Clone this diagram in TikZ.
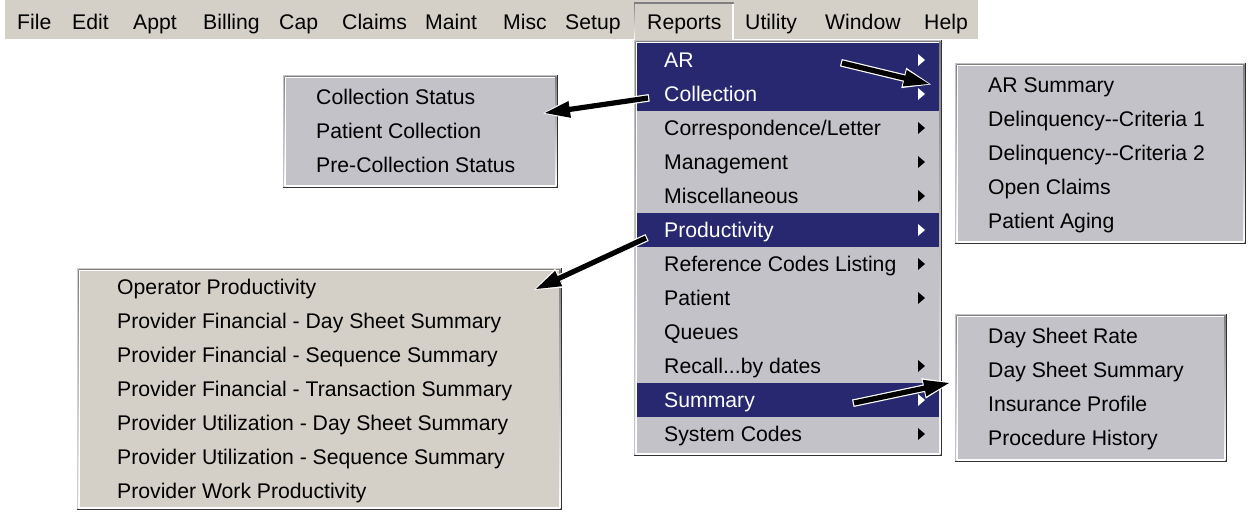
\documentclass[tikz,border=0pt]{standalone}
\usepackage{fontspec}
\setmainfont{Liberation Sans}
\usetikzlibrary{calc}
\definecolor{barface}{RGB}{212,208,200}
\definecolor{menuface}{RGB}{194,194,200}
\definecolor{hilite}{RGB}{40,40,112}
\definecolor{shade}{RGB}{128,128,128}
\definecolor{darkedge}{RGB}{50,50,50}

% raised 3D panel built from stacked rectangles: x1,y1,x2,y2,fill colour
\newcommand\menupanel[5]{%
  \fill[darkedge] (#1,#2) rectangle (#3,#4);
  \fill[#5] (#1,#2) rectangle ({#3-1.5},{#4-1.5});
  \fill[shade] ({#1+1.5},{#2+1.5}) rectangle ({#3-1.5},{#4-1.5});
  \fill[white] ({#1+1.5},{#2+1.5}) rectangle ({#3-3},{#4-3});
  \fill[#5] ({#1+3},{#2+3}) rectangle ({#3-3},{#4-3});
}
% submenu pointer triangle at height y
\newcommand\subtri[2]{\fill[#2] (918,{#1-6}) -- (918,{#1+6}) -- (925,#1) -- cycle;}
% filled arrow outline: colour, tail, tip, shaft half width, head half width, head length
\newcommand\arrowfill[6]{%
  \fill[#1]
    ($(#2)!#4!90:(#3)$)
    -- ($(#3)!#6!(#2)!#4!90:(#3)$)
    -- ($(#3)!#6!(#2)!#5!90:(#3)$)
    -- (#3)
    -- ($(#3)!#6!(#2)!#5!-90:(#3)$)
    -- ($(#3)!#6!(#2)!#4!-90:(#3)$)
    -- ($(#2)!#4!-90:(#3)$) -- cycle;
}
% pointer arrow with a thin white rim, from tail #1 to tip #2
\newcommand\pointer[2]{%
  \coordinate (#1-rim) at ($(#1)!-1.2pt!(#2)$);
  \coordinate (#2-rim) at ($(#2)!-2pt!(#1)$);
  \arrowfill{white}{#1-rim}{#2-rim}{3.8pt}{10.5pt}{28pt}
  \arrowfill{black}{#1}{#2}{2.6pt}{8.5pt}{25pt}
}

\begin{document}
\begin{tikzpicture}[x=1pt,y=-1pt,
  every node/.style={inner sep=0pt, font=\fontsize{21.2}{24}\selectfont},
  item/.style={anchor=base west},
  hiitem/.style={anchor=base west, text=white}]
\useasboundingbox (0,0) rectangle (1252,512);
\fill[white] (0,0) rectangle (1252,512);

% menu bar
\fill[barface] (5,0) rectangle (978,38.5);
% sunken Reports button
\fill[shade] (634,2.5) rectangle (733.5,40);
\fill[white] (635.2,3.7) rectangle (733.5,40);
\fill[barface] (635.2,3.7) rectangle (732.3,40);

\node[item] (bFile)    at (17,29)  {File};
\node[item] (bEdit)    at (72,29)  {Edit};
\node[item] (bAppt)    at (133,29) {Appt};
\node[item] (bBilling) at (203,29) {Billing};
\node[item] (bCap)     at (279,29) {Cap};
\node[item] (bClaims)  at (342,29) {Claims};
\node[item] (bMaint)   at (425,29) {Maint};
\node[item] (bMisc)    at (503,29) {Misc};
\node[item] (bSetup)   at (565,29) {Setup};
\node[item] (bReports) at (647,29) {Reports};
\node[item] (bUtility) at (745,29) {Utility};
\node[item] (bWindow)  at (825,29) {Window};
\node[item] (bHelp)    at (924,29) {Help};

% Reports menu
\menupanel{634}{40}{942}{456}{menuface}
\fill[hilite] (637,43) rectangle (939,111);
\fill[hilite] (637,213) rectangle (939,247);
\fill[hilite] (637,383) rectangle (939,417);

\node[hiitem] (mAR)      at (664,67.5)  {AR};
\node[hiitem] (mColl)    at (664,101.5) {Collection};
\node[item]   (mCorr)    at (664,135.5) {Correspondence/Letter};
\node[item]   (mMgmt)    at (664,169.5) {Management};
\node[item]   (mMisc)    at (664,203.5) {Miscellaneous};
\node[hiitem] (mProd)    at (664,237.5) {Productivity};
\node[item]   (mRef)     at (664,271.5) {Reference Codes Listing};
\node[item]   (mPatient) at (664,305.5) {Patient};
\node[item]   (mQueues)  at (664,339.5) {Queues};
\node[item]   (mRecall)  at (664,373.5) {Recall...by dates};
\node[hiitem] (mSummary) at (664,407.5) {Summary};
\node[item]   (mSys)     at (664,441.5) {System Codes};

\subtri{60}{white}
\subtri{94}{white}
\subtri{128}{black}
\subtri{162}{black}
\subtri{196}{black}
\subtri{230}{white}
\subtri{264}{black}
\subtri{298}{black}
\subtri{366}{black}
\subtri{400}{white}
\subtri{434}{black}

% Collection submenu
\menupanel{283}{75}{558}{188}{menuface}
\node[item] (cStatus)  at (316,104.5) {Collection Status};
\node[item] (cPatient) at (316,138.5) {Patient Collection};
\node[item] (cPre)     at (316,172.5) {Pre-Collection Status};

% AR submenu
\menupanel{955}{63}{1246}{244}{menuface}
\node[item] (aSum)  at (988,92.5)  {AR Summary};
\node[item] (aDel1) at (988,126.5) {Delinquency-{}-Criteria 1};
\node[item] (aDel2) at (988,160.5) {Delinquency-{}-Criteria 2};
\node[item] (aOpen) at (988,194.5) {Open Claims};
\node[item] (aAge)  at (988,228.5) {Patient Aging};

% Summary submenu
\menupanel{955}{314}{1227}{462}{menuface}
\node[item] (sRate) at (988,343.5) {Day Sheet Rate};
\node[item] (sSum)  at (988,377.5) {Day Sheet Summary};
\node[item] (sIns)  at (988,411.5) {Insurance Profile};
\node[item] (sProc) at (988,445.5) {Procedure History};

% Productivity submenu
\menupanel{77}{268}{562}{510}{barface}
\node[item] (p1) at (117,294.5) {Operator Productivity};
\node[item] (p2) at (117,328.5) {Provider Financial - Day Sheet Summary};
\node[item] (p3) at (117,362.5) {Provider Financial - Sequence Summary};
\node[item] (p4) at (117,396.5) {Provider Financial - Transaction Summary};
\node[item] (p5) at (117,430.5) {Provider Utilization - Day Sheet Summary};
\node[item] (p6) at (117,464.5) {Provider Utilization - Sequence Summary};
\node[item] (p7) at (117,498.5) {Provider Work Productivity};

% pointer arrows
\coordinate (arTail)   at (842,63);
\coordinate (arTip)    at (929,84);
\coordinate (colTail)  at (648,98);
\coordinate (colTip)   at (545,113);
\coordinate (prodTail) at (646,238);
\coordinate (prodTip)  at (536,289);
\coordinate (sumTail)  at (854,403);
\coordinate (sumTip)   at (949,383);

\pointer{arTail}{arTip}
\pointer{colTail}{colTip}
\pointer{prodTail}{prodTip}
\pointer{sumTail}{sumTip}
\end{tikzpicture}
\end{document}
